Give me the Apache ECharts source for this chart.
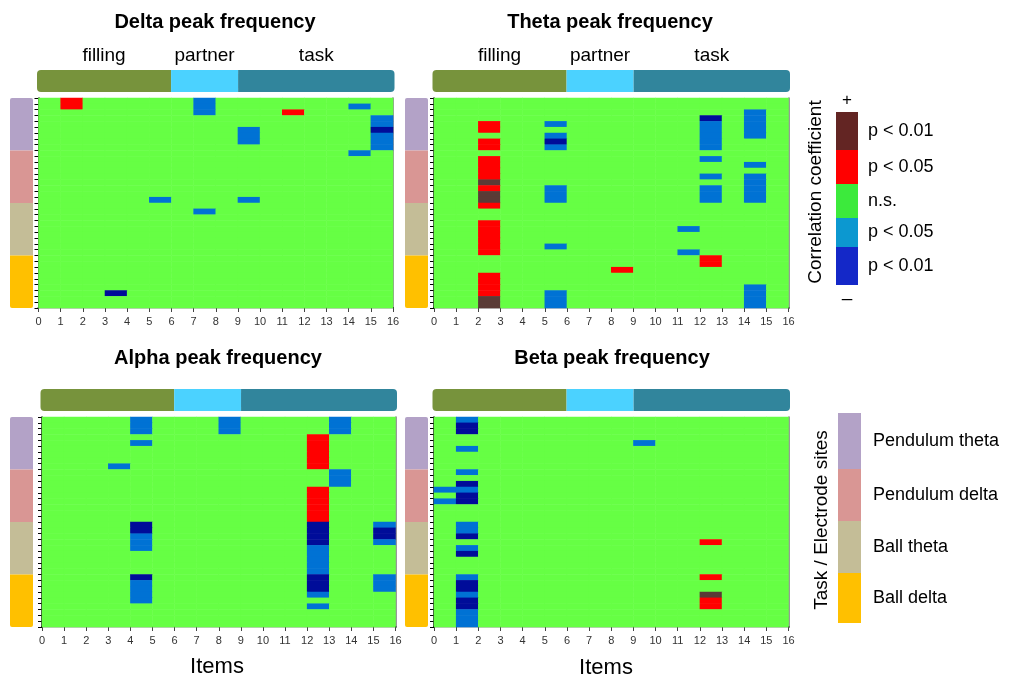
<!DOCTYPE html>
<html>
<head>
<meta charset="utf-8">
<script src="https://cdn.jsdelivr.net/npm/echarts@6/dist/echarts.min.js"></script>
<style>
html, body { margin: 0; padding: 0; background: #fff; }
#main { width: 1010px; height: 681px; }
</style>
</head>
<body>
<div id="main"></div>
<script>
/* Peak-frequency correlation maps: items x electrode sites */

const ITEM_COUNT = 16;
const SITE_COUNT = 36;
const panelTitles = ['Delta peak frequency', 'Theta peak frequency', 'Alpha peak frequency', 'Beta peak frequency'];
const phaseNames = ['filling', 'partner', 'task'];
const phaseItems = [6, 3, 7];
const groupNames = ['Pendulum theta', 'Pendulum delta', 'Ball theta', 'Ball delta'];
const groupSites = [9, 9, 9, 9];
const levelNames = ['p < 0.01', 'p < 0.05', 'n.s.', 'p < 0.05', 'p < 0.01'];
const levelValues = [2, 1, 0, -1, -2];

// significant runs: [item, first site, last site, level]
// level 2 = + p<0.01, 1 = + p<0.05, -1 = - p<0.05, -2 = - p<0.01
const deltaRuns = [
    [1, 0, 1, 1], [7, 0, 2, -1], [11, 2, 2, 1], [14, 1, 1, -1],
    [15, 3, 4, -1], [15, 5, 5, -2], [15, 6, 8, -1], [14, 9, 9, -1],
    [9, 5, 7, -1], [5, 17, 17, -1], [9, 17, 17, -1], [7, 19, 19, -1],
    [3, 33, 33, -2]
];
const thetaRuns = [
    [2, 4, 5, 1], [2, 7, 8, 1], [2, 10, 13, 1], [2, 14, 14, 2], [2, 15, 15, 1],
    [2, 16, 17, 2], [2, 18, 18, 1], [2, 21, 26, 1], [2, 30, 33, 1], [2, 34, 35, 2],
    [5, 4, 4, -1], [5, 6, 6, -1], [5, 7, 7, -2], [5, 8, 8, -1], [5, 15, 17, -1],
    [5, 25, 25, -1], [5, 33, 35, -1],
    [8, 29, 29, 1],
    [11, 22, 22, -1], [11, 26, 26, -1],
    [12, 3, 3, -2], [12, 4, 8, -1], [12, 10, 10, -1], [12, 13, 13, -1],
    [12, 15, 17, -1], [12, 27, 28, 1],
    [14, 2, 6, -1], [14, 11, 11, -1], [14, 13, 17, -1], [14, 32, 35, -1]
];
const alphaRuns = [
    [4, 0, 2, -1], [4, 4, 4, -1], [4, 18, 19, -2], [4, 20, 22, -1],
    [4, 27, 27, -2], [4, 28, 31, -1],
    [3, 8, 8, -1], [8, 0, 2, -1],
    [12, 3, 8, 1], [12, 12, 17, 1], [12, 18, 21, -2], [12, 22, 26, -1],
    [12, 27, 29, -2], [12, 30, 30, -1], [12, 32, 32, -1],
    [13, 0, 2, -1], [13, 9, 11, -1],
    [15, 18, 18, -1], [15, 19, 20, -2], [15, 21, 21, -1], [15, 27, 29, -1]
];
const betaRuns = [
    [1, 0, 0, -1], [1, 1, 2, -2], [1, 5, 5, -1], [1, 9, 9, -1], [1, 11, 11, -2],
    [1, 12, 12, -1], [1, 13, 14, -2], [1, 18, 19, -1], [1, 20, 20, -2],
    [1, 22, 22, -1], [1, 23, 23, -2], [1, 27, 27, -1], [1, 28, 29, -2],
    [1, 30, 30, -1], [1, 31, 32, -2], [1, 33, 35, -1],
    [0, 12, 12, -1], [0, 14, 14, -1],
    [9, 4, 4, -1],
    [12, 21, 21, 1], [12, 27, 27, 1], [12, 30, 30, 2], [12, 31, 32, 1]
];
const panelRuns = [deltaRuns, thetaRuns, alphaRuns, betaRuns];

// ---- styles / layout ----
const FONT = 'Liberation Sans';
const cellColors = { '2': '#5a3b36', '1': '#ff0000', '0': '#66ff44', '-1': '#0072d4', '-2': '#000c99' };
const legendColors = ['#632523', '#ff0000', '#3cea3c', '#0c98d0', '#1428c8'];
const phaseColors = ['#77933c', '#4bd2ff', '#31859c'];
const groupColors = ['#b3a2c7', '#d99694', '#c4bd97', '#ffc000'];

const plotRects = [
    { left: 38.5, top: 98, width: 354.5, height: 210 },
    { left: 434, top: 98, width: 354.5, height: 210 },
    { left: 42, top: 417, width: 353.5, height: 210 },
    { left: 434, top: 417, width: 354.5, height: 210 }
];
const phaseBarTop = [70, 70, 389, 389];
const stripLeft = [10, 405, 10, 405];
const titlePos = [[215, 22], [610, 22], [218, 358], [612, 358]];

function buildCells(runs) {
    let grid = [];
    for (let s = 0; s < SITE_COUNT; s++) {
        grid.push(new Array(ITEM_COUNT).fill(0));
    }
    for (let r of runs) {
        for (let s = r[1]; s <= r[2]; s++) {
            grid[s][r[0]] = r[3];
        }
    }
    let data = [];
    for (let s = 0; s < SITE_COUNT; s++) {
        for (let i = 0; i < ITEM_COUNT; i++) {
            data.push([i, s, grid[s][i]]);
        }
    }
    return data;
}

let grids = [], xAxes = [], yAxes = [], series = [], graphic = [];
const itemCats = Array.from({ length: ITEM_COUNT }, (_, i) => String(i));
const siteCats = Array.from({ length: SITE_COUNT }, (_, i) => String(i));
const hidden = { show: false };

panelTitles.forEach(function (title, p) {
    const rect = plotRects[p];

    // heatmap grid
    let g = grids.length;
    grids.push(Object.assign({ outerBoundsMode: 'none' }, rect));
    let xCat = xAxes.length;
    xAxes.push({
        gridIndex: g, type: 'category', data: itemCats, position: 'top',
        axisLine: { show: true, lineStyle: { color: '#000', width: 2 } },
        axisTick: hidden, axisLabel: hidden, splitLine: hidden
    });
    xAxes.push({
        gridIndex: g, type: 'value', min: 0, max: ITEM_COUNT, interval: 1, position: 'bottom',
        axisLine: { show: true, lineStyle: { color: '#c8c8c8', width: 1 } },
        axisTick: { show: true, length: 4, lineStyle: { color: '#444' } },
        axisLabel: { show: true, fontSize: 11, color: '#333', margin: 8, fontFamily: FONT },
        splitLine: hidden
    });
    let yCat = yAxes.length;
    yAxes.push({
        gridIndex: g, type: 'category', data: siteCats, inverse: true, position: 'left',
        axisLine: { show: true, lineStyle: { color: '#000', width: 1.5 } },
        axisTick: { show: true, interval: 0, length: 4, lineStyle: { color: '#000' } },
        axisLabel: hidden, splitLine: hidden
    });
    yAxes.push({
        gridIndex: g, type: 'value', min: 0, max: 1, position: 'right',
        axisLine: { show: true, lineStyle: { color: '#777', width: 1.5 } },
        axisTick: hidden, axisLabel: hidden, splitLine: hidden
    });
    series.push({
        type: 'heatmap', name: title, xAxisIndex: xCat, yAxisIndex: yCat,
        data: buildCells(panelRuns[p]),
        itemStyle: { borderWidth: 0 },
        emphasis: { disabled: true }, silent: true, progressive: 0
    });

    // phase bar above the map
    g = grids.length;
    grids.push({ outerBoundsMode: 'none', left: rect.left - 1.5, width: rect.width + 3, top: phaseBarTop[p], height: 22 });
    let xb = xAxes.length;
    xAxes.push({ gridIndex: g, type: 'value', min: 0, max: ITEM_COUNT, show: false });
    let yb = yAxes.length;
    yAxes.push({ gridIndex: g, type: 'category', data: ['phase'], show: false });
    phaseNames.forEach(function (name, k) {
        let radius = [0, 0, 0, 0];
        if (k === 0) radius = [4, 0, 0, 4];
        if (k === phaseNames.length - 1) radius = [0, 4, 4, 0];
        series.push({
            type: 'bar', name: name, stack: 'phase' + p, xAxisIndex: xb, yAxisIndex: yb,
            data: [phaseItems[k]], barWidth: '100%', silent: true,
            itemStyle: { color: phaseColors[k], borderRadius: radius },
            label: {
                show: p < 2, position: 'top', distance: 5, formatter: name,
                fontSize: 19, color: '#000', fontFamily: FONT
            }
        });
    });

    // electrode-group strip on the left
    g = grids.length;
    grids.push({ outerBoundsMode: 'none', left: stripLeft[p], width: 23, top: rect.top, height: rect.height });
    let xs = xAxes.length;
    xAxes.push({ gridIndex: g, type: 'category', data: ['sites'], show: false });
    let ys = yAxes.length;
    yAxes.push({ gridIndex: g, type: 'value', min: 0, max: SITE_COUNT, inverse: true, show: false });
    groupNames.forEach(function (name, k) {
        let radius = [0, 0, 0, 0];
        if (k === 0) radius = [2, 2, 0, 0];
        if (k === groupNames.length - 1) radius = [0, 0, 2, 2];
        series.push({
            type: 'bar', name: name, stack: 'group' + p, xAxisIndex: xs, yAxisIndex: ys,
            data: [groupSites[k]], barWidth: '100%', silent: true,
            itemStyle: { color: groupColors[k], borderRadius: radius }
        });
    });

    graphic.push({
        type: 'text', x: titlePos[p][0], y: titlePos[p][1], silent: true,
        style: { text: title, align: 'center', verticalAlign: 'middle', fill: '#000', font: 'bold 20px "' + FONT + '"' }
    });
});

// x-axis names
[[217, 667], [606, 668]].forEach(function (pos) {
    graphic.push({
        type: 'text', x: pos[0], y: pos[1], silent: true,
        style: { text: 'Items', align: 'center', verticalAlign: 'middle', fill: '#000', font: '22px "' + FONT + '"' }
    });
});

// correlation colour key
const keyEdges = [112, 150, 184, 218, 247, 285];
levelNames.forEach(function (name, k) {
    graphic.push({
        type: 'rect', silent: true,
        shape: { x: 836, y: keyEdges[k], width: 22, height: keyEdges[k + 1] - keyEdges[k] },
        style: { fill: legendColors[k] }
    });
    graphic.push({
        type: 'text', x: 868, y: (keyEdges[k] + keyEdges[k + 1]) / 2, silent: true,
        style: { text: name, align: 'left', verticalAlign: 'middle', fill: '#000', font: '18px "' + FONT + '"' }
    });
});
graphic.push({ type: 'text', x: 847, y: 100, silent: true,
    style: { text: '+', align: 'center', verticalAlign: 'middle', fill: '#000', font: '17px "' + FONT + '"' } });
graphic.push({ type: 'text', x: 847, y: 299, silent: true,
    style: { text: '\u2013', align: 'center', verticalAlign: 'middle', fill: '#000', font: '19px "' + FONT + '"' } });
graphic.push({ type: 'text', x: 816, y: 192, rotation: Math.PI / 2, silent: true,
    style: { text: 'Correlation coefficient', align: 'center', verticalAlign: 'middle', fill: '#000', font: '19px "' + FONT + '"' } });

// task / electrode-site key
const siteKeyEdges = [413, 469, 521, 573, 623];
groupNames.forEach(function (name, k) {
    graphic.push({
        type: 'rect', silent: true,
        shape: { x: 838, y: siteKeyEdges[k], width: 23, height: siteKeyEdges[k + 1] - siteKeyEdges[k] },
        style: { fill: groupColors[k] }
    });
    graphic.push({
        type: 'text', x: 873, y: (siteKeyEdges[k] + siteKeyEdges[k + 1]) / 2, silent: true,
        style: { text: name, align: 'left', verticalAlign: 'middle', fill: '#000', font: '18px "' + FONT + '"' }
    });
});
graphic.push({ type: 'text', x: 822, y: 520, rotation: Math.PI / 2, silent: true,
    style: { text: 'Task / Electrode sites', align: 'center', verticalAlign: 'middle', fill: '#000', font: '19px "' + FONT + '"' } });

let visualPieces = levelValues.map(v => ({ value: v, color: cellColors[String(v)] }));

let option = {
    animation: false,
    backgroundColor: '#fff',
    textStyle: { fontFamily: FONT },
    grid: grids,
    xAxis: xAxes,
    yAxis: yAxes,
    visualMap: {
        type: 'piecewise', show: false, dimension: 2,
        seriesIndex: series.map((s, i) => s.type === 'heatmap' ? i : -1).filter(i => i >= 0),
        pieces: visualPieces
    },
    series: series,
    graphic: graphic
};

let chart = echarts.init(document.getElementById('main'), null, { renderer: 'canvas' });
chart.setOption(option);
</script>
</body>
</html>
